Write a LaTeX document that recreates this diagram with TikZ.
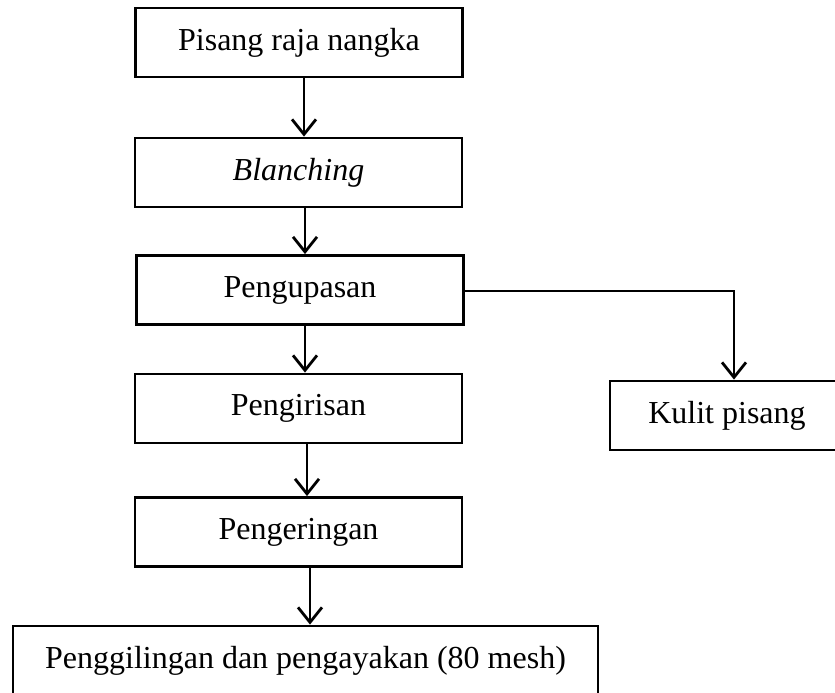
\documentclass[tikz,border=0pt]{standalone}
\usepackage{fontspec}
\setmainfont{Liberation Serif}
\usepackage{tikz}
\usetikzlibrary{arrows.meta}

\begin{document}
\begin{tikzpicture}[x=1pt, y=1pt,
  box/.style={draw, line width=2.8pt, minimum width=327pt, minimum height=69pt, inner sep=0pt, font=\fontsize{32}{38}\selectfont},
  arr/.style={line width=2.8pt, -{Straight Barb[length=15pt, width=24pt, line width=2.8pt]}}]
\useasboundingbox (0, 0) rectangle (835, -693);

\node[box] (b1) at (299, -42.5) {Pisang raja nangka};
\node[box] (b2) at (298.5, -172.5) {\itshape Blanching};
\node[box] (b3) at (300, -290) {Pengupasan};
\node[box] (b4) at (298.5, -408.5) {Pengirisan};
\node[box] (b5) at (298.5, -532) {Pengeringan};
\node[box, minimum width=585pt] (b6) at (305.5, -660.5) {Penggilingan dan pengayakan (80 mesh)};
\node[box, minimum width=234pt] (b7) at (727, -415.5) {Kulit pisang};

\draw[arr] ([xshift=5pt]b1.south) -- ([xshift=5pt]b1.south |- b2.north);
\draw[arr] ([xshift=6.5pt]b2.south) -- ([xshift=6.5pt]b2.south |- b3.north);
\draw[arr] ([xshift=5pt]b3.south) -- ([xshift=5pt]b3.south |- b4.north);
\draw[arr] ([xshift=8.5pt]b4.south) -- ([xshift=8.5pt]b4.south |- b5.north);
\draw[arr] ([xshift=11.5pt]b5.south) -- ([xshift=11.5pt]b5.south |- b6.north);
\draw[arr] ([yshift=-1pt]b3.east) -| ([xshift=7pt]b7.north);
\end{tikzpicture}
\end{document}
